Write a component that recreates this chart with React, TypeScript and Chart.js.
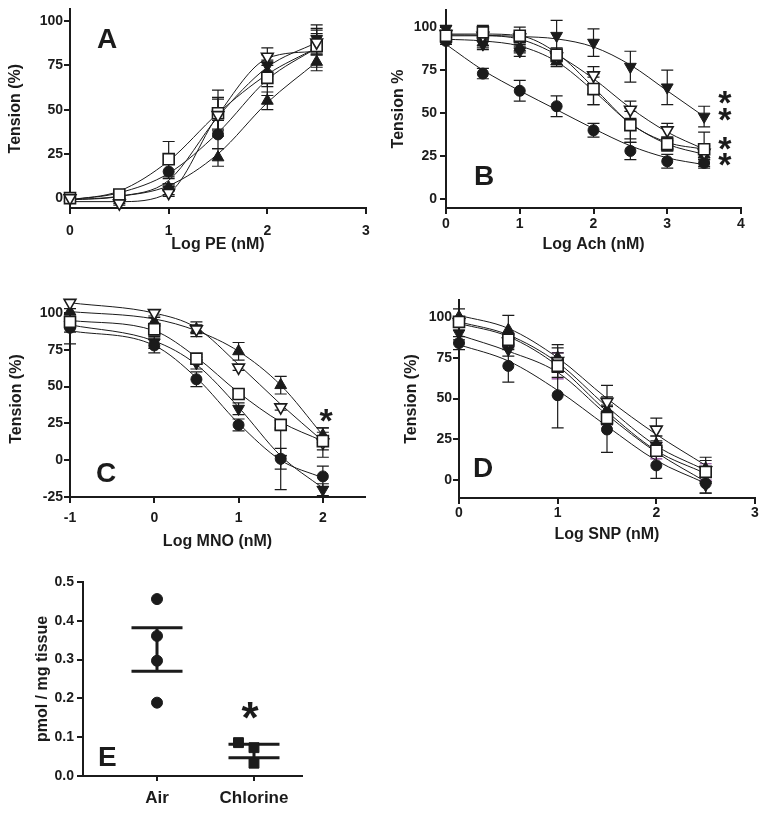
import React, { useEffect, useRef } from 'react';
import { Chart, registerables } from 'chart.js';

Chart.register(...registerables);

const FONT = '"Liberation Sans", Arial, Helvetica, sans-serif';
const INK = '#1b1b1b';
const PURPLE = '#8a3c96';

// ---------- Panel A : Log PE ----------
const A_X = [0, 0.5, 1, 1.5, 2, 2.5];
const A_CIRCLE = [0, 1, 15, 36, 70, 87];
const A_CIRCLE_SEM = [0, 1, 4, 8, 7, 6];
const A_CIRCLE_FIT = [-1, 3, 14, 37, 67, 85];
const A_SQUARE = [0, 2, 22, 48, 68, 86];
const A_SQUARE_SEM = [0, 2, 10, 13, 10, 12];
const A_SQUARE_FIT = [-1, 4, 21, 48, 70, 85];
const A_TRIUP = [0, 0, 6, 23, 55, 77];
const A_TRIUP_SEM = [0, 1, 2, 5, 5, 5];
const A_TRIUP_FIT = [-1, 1, 7, 25, 54, 77];
const A_TRIDOWN = [0, -2, 5, 48, 75, 90];
const A_TRIDOWN_SEM = [0, 1, 3, 9, 6, 6];
const A_TRIDOWN_FIT = [-1, 1, 10, 46, 74, 88];
const A_TRIOPEN = [0, -3, 3, 47, 80, 88];
const A_TRIOPEN_SEM = [0, 1, 2, 9, 5, 7];
const A_TRIOPEN_FIT = [-2, -2, 3, 47, 79, 83];
const A_XTICKS = [0, 1, 2, 3];

// ---------- Panel B : Log Ach ----------
const B_X = [0, 0.5, 1, 1.5, 2, 2.5, 3, 3.5];
const B_CIRCLE = [92, 73, 63, 54, 40, 28, 22, 21];
const B_CIRCLE_SEM = [2, 3, 6, 6, 4, 5, 4, 3];
const B_CIRCLE_FIT = [90, 75, 63, 52, 41, 31, 24, 20];
const B_SQUARE = [95, 97, 95, 84, 64, 43, 32, 29];
const B_SQUARE_SEM = [2, 4, 5, 4, 9, 10, 4, 10];
const B_SQUARE_FIT = [96, 96, 95, 85, 65, 44, 33, 29];
const B_TRIUP = [93, 91, 88, 80, 63, 43, 31, 26];
const B_TRIUP_SEM = [2, 3, 3, 3, 8, 8, 3, 3];
const B_TRIUP_FIT = [93, 92, 89, 80, 63, 44, 32, 26];
const B_TRIDOWN = [99, 90, 86, 95, 91, 77, 65, 48];
const B_TRIDOWN_SEM = [2, 3, 3, 9, 8, 9, 10, 6];
const B_TRIDOWN_FIT = [95.5, 95.3, 94.6, 93.2, 88.5, 78, 63, 48];
const B_TRIOPEN = [96, 95, 94, 83, 72, 52, 40, 27];
const B_TRIOPEN_SEM = [2, 3, 3, 3, 5, 5, 4, 4];
const B_TRIOPEN_FIT = [95, 95, 93, 84, 70, 53, 39, 29];
const B_XTICKS = [0, 1, 2, 3, 4];
const B_STAR_X = [3.78, 3.78, 3.78, 3.78];
const B_STAR_Y = [59, 49, 32, 23];

// ---------- Panel C : Log MNO ----------
const C_X = [-1, 0, 0.5, 1, 1.5, 2];
const C_CIRCLE = [90, 78, 55, 24, 1, -11];
const C_CIRCLE_SEM = [3, 5, 5, 4, 7, 7];
const C_CIRCLE_FIT = [88, 78, 56, 25, 0, -12];
const C_SQUARE = [94, 89, 69, 45, 24, 13];
const C_SQUARE_SEM = [15, 4, 3, 3, 3, 6];
const C_SQUARE_FIT = [95, 88, 70, 46, 26, 13];
const C_TRIUP = [101, 94, 89, 74, 51, 17];
const C_TRIUP_SEM = [2, 3, 5, 6, 6, 5];
const C_TRIUP_FIT = [101, 96, 88, 74, 51, 17];
const C_TRIDOWN = [92, 80, 66, 35, 1, -20];
const C_TRIDOWN_SEM = [2, 4, 4, 4, 21, 4];
const C_TRIDOWN_FIT = [92, 81, 65, 36, 3, -19];
const C_TRIOPEN = [107, 100, 89, 63, 36, 12];
const C_TRIOPEN_SEM = [0, 2, 3, 2, 2, 10];
const C_TRIOPEN_FIT = [107, 100, 90, 65, 38, 13];
const C_XTICKS = [-1, 0, 1, 2];
const C_STAR_X = [2.04];
const C_STAR_Y = [30];

// ---------- Panel D : Log SNP ----------
const D_X = [0, 0.5, 1, 1.5, 2, 2.5];
const D_CIRCLE = [84, 70, 52, 31, 9, -2];
const D_CIRCLE_SEM = [4, 10, 20, 14, 8, 6];
const D_CIRCLE_FIT = [83, 73, 55, 33, 12, -2];
const D_SQUARE = [97, 86, 70, 38, 18, 5];
const D_SQUARE_SEM = [3, 4, 8, 4, 5, 5];
const D_SQUARE_FIT = [96, 88, 70, 42, 18, 4];
const D_TRIUP = [100, 92, 75, 43, 22, 7];
const D_TRIUP_SEM = [5, 9, 6, 8, 5, 5];
const D_TRIUP_FIT = [97, 89, 72, 45, 21, 6];
const D_TRIDOWN = [90, 80, 72, 40, 21, -3];
const D_TRIDOWN_SEM = [4, 4, 6, 6, 6, 5];
const D_TRIDOWN_FIT = [89, 79, 66, 40, 17, -1];
const D_TRIOPEN = [97, 85, 73, 48, 31, 6];
const D_TRIOPEN_SEM = [3, 4, 10, 10, 7, 8];
const D_TRIOPEN_FIT = [101, 93, 75, 50, 28, 9];
const D_XTICKS = [0, 1, 2, 3];

const TENSION_TICKS = [0, 25, 50, 75, 100];
const TENSION_TICKS_C = [-25, 0, 25, 50, 75, 100];

// ---------- Panel E : pmol / mg tissue ----------
const E_CATEGORIES = ['Air', 'Chlorine'];
const E_AIR_X = [0, 0, 0, 0];
const E_AIR_Y = [0.456, 0.361, 0.297, 0.189];
const E_CL_X = [0.84, 1, 1];
const E_CL_Y = [0.086, 0.073, 0.033];
const E_MEAN = [0.326, 0.0645];
const E_SEM = [0.056, 0.0175];
const E_YTICKS = [0, 0.1, 0.2, 0.3, 0.4, 0.5];
const E_XTICKS = [0, 1];
const E_STAR_X = [0.96];
const E_STAR_Y = [0.163];

const MARK: Record<string, any> = {
  circle: { style: 'circle', rot: 0, r: 5.5, fill: INK, bw: 1 },
  square: { style: 'rect', rot: 0, r: 7.8, fill: '#ffffff', bw: 1.6 },
  triUp: { style: 'triangle', rot: 0, r: 6.8, fill: INK, bw: 1 },
  triDown: { style: 'triangle', rot: 180, r: 6.8, fill: INK, bw: 1 },
  triOpen: { style: 'triangle', rot: 180, r: 6.8, fill: '#ffffff', bw: 1.6 },
};

const PANELS: any[] = [
  {
    key: 'A',
    canvas: { left: 0, top: 0, width: 384, height: 265 },
    area: { left: 70, top: 7, right: 366, bottom: 208 },
    x: A_X, xMin: 0, xMax: 3, xTicks: A_XTICKS,
    yMin: -5.6, yMax: 106.7, yTicks: TENSION_TICKS,
    xTitle: 'Log PE (nM)', yTitle: 'Tension (%)',
    xTickPad: 8.6, yTickPad: 1, xTitlePad: 10.4, yTitlePad: 6.1,
    letter: { text: 'A', x: 97, y: 48 },
    stars: { x: [], y: [], size: 34 },
    series: [
      { mark: 'triOpen', y: A_TRIOPEN, sem: A_TRIOPEN_SEM, fit: A_TRIOPEN_FIT },
      { mark: 'square', y: A_SQUARE, sem: A_SQUARE_SEM, fit: A_SQUARE_FIT },
      { mark: 'circle', y: A_CIRCLE, sem: A_CIRCLE_SEM, fit: A_CIRCLE_FIT },
      { mark: 'triDown', y: A_TRIDOWN, sem: A_TRIDOWN_SEM, fit: A_TRIDOWN_FIT },
      { mark: 'triUp', y: A_TRIUP, sem: A_TRIUP_SEM, fit: A_TRIUP_FIT },
    ],
  },
  {
    key: 'B',
    canvas: { left: 384, top: 0, width: 384, height: 265 },
    area: { left: 446, top: 10, right: 741, bottom: 208 },
    x: B_X, xMin: 0, xMax: 4, xTicks: B_XTICKS,
    yMin: -5.2, yMax: 110, yTicks: TENSION_TICKS,
    xTitle: 'Log Ach (nM)', yTitle: 'Tension %',
    xTickPad: 1.6, yTickPad: 3, xTitlePad: 10.4, yTitlePad: 5.4,
    letter: { text: 'B', x: 474, y: 185 },
    stars: { x: B_STAR_X, y: B_STAR_Y, size: 34 },
    series: [
      { mark: 'square', y: B_SQUARE, sem: B_SQUARE_SEM, fit: B_SQUARE_FIT },
      { mark: 'triOpen', y: B_TRIOPEN, sem: B_TRIOPEN_SEM, fit: B_TRIOPEN_FIT },
      { mark: 'circle', y: B_CIRCLE, sem: B_CIRCLE_SEM, fit: B_CIRCLE_FIT },
      { mark: 'triDown', y: B_TRIDOWN, sem: B_TRIDOWN_SEM, fit: B_TRIDOWN_FIT },
      { mark: 'triUp', y: B_TRIUP, sem: B_TRIUP_SEM, fit: B_TRIUP_FIT },
    ],
  },
  {
    key: 'C',
    canvas: { left: 0, top: 280, width: 384, height: 285 },
    area: { left: 70, top: 301, right: 365, bottom: 497 },
    x: C_X, xMin: -1, xMax: 2.5, xTicks: C_XTICKS,
    yMin: -25, yMax: 108.2, yTicks: TENSION_TICKS_C,
    xTitle: 'Log MNO (nM)', yTitle: 'Tension (%)',
    xTickPad: 6.6, yTickPad: 1, xTitlePad: 13.4, yTitlePad: 7.1,
    letter: { text: 'C', x: 96, y: 482 },
    stars: { x: C_STAR_X, y: C_STAR_Y, size: 34 },
    series: [
      { mark: 'square', y: C_SQUARE, sem: C_SQUARE_SEM, fit: C_SQUARE_FIT },
      { mark: 'triOpen', y: C_TRIOPEN, sem: C_TRIOPEN_SEM, fit: C_TRIOPEN_FIT },
      { mark: 'circle', y: C_CIRCLE, sem: C_CIRCLE_SEM, fit: C_CIRCLE_FIT },
      { mark: 'triDown', y: C_TRIDOWN, sem: C_TRIDOWN_SEM, fit: C_TRIDOWN_FIT },
      { mark: 'triUp', y: C_TRIUP, sem: C_TRIUP_SEM, fit: C_TRIUP_FIT },
    ],
  },
  {
    key: 'D',
    canvas: { left: 384, top: 280, width: 384, height: 285 },
    area: { left: 459, top: 300, right: 755, bottom: 498 },
    x: D_X, xMin: 0, xMax: 3, xTicks: D_XTICKS,
    yMin: -11, yMax: 110.4, yTicks: TENSION_TICKS,
    xTitle: 'Log SNP (nM)', yTitle: 'Tension (%)',
    xTickPad: 0.6, yTickPad: 1, xTitlePad: 20.4, yTitlePad: 18.4,
    letter: { text: 'D', x: 473, y: 477 },
    stars: { x: [], y: [], size: 34 },
    series: [
      { mark: 'square', y: D_SQUARE, sem: D_SQUARE_SEM, fit: D_SQUARE_FIT, errColor: PURPLE },
      { mark: 'triOpen', y: D_TRIOPEN, sem: D_TRIOPEN_SEM, fit: D_TRIOPEN_FIT },
      { mark: 'circle', y: D_CIRCLE, sem: D_CIRCLE_SEM, fit: D_CIRCLE_FIT },
      { mark: 'triDown', y: D_TRIDOWN, sem: D_TRIDOWN_SEM, fit: D_TRIDOWN_FIT },
      { mark: 'triUp', y: D_TRIUP, sem: D_TRIUP_SEM, fit: D_TRIUP_FIT },
    ],
  },
];

const E_PANEL: any = {
  key: 'E',
  canvas: { left: 0, top: 565, width: 384, height: 249 },
  area: { left: 83, top: 582, right: 302, bottom: 776 },
  xMin: -0.763, xMax: 1.495, xTicks: E_XTICKS,
  yMin: 0, yMax: 0.5, yTicks: E_YTICKS,
  yTitle: 'pmol / mg tissue',
  xTickPad: 6.8, yTickPad: 3, yTitlePad: 33.4,
  letter: { text: 'E', x: 98, y: 766 },
  stars: { x: E_STAR_X, y: E_STAR_Y, size: 44 },
};

function makeAxis(o: any) {
  const horizontal = o.pos === 'bottom';
  return {
    type: 'linear',
    position: o.pos,
    min: o.min,
    max: o.max,
    afterBuildTicks: (s: any) => {
      s.ticks = o.ticks.map((v: number) => ({ value: v }));
    },
    afterFit: (s: any) => {
      if (horizontal) s.height = o.size;
      else s.width = o.size;
      s.paddingLeft = 0;
      s.paddingRight = 0;
      s.paddingTop = 0;
      s.paddingBottom = 0;
    },
    border: { display: true, color: INK, width: 2 },
    grid: {
      display: true,
      drawOnChartArea: false,
      drawTicks: true,
      tickLength: o.tickLength ?? 6,
      tickWidth: 2,
      tickColor: INK,
      color: INK,
      lineWidth: 2,
    },
    ticks: {
      color: INK,
      padding: o.tickPad,
      font: { family: FONT, size: o.tickSize || 14, weight: 'bold' },
      autoSkip: false,
      maxRotation: 0,
      minRotation: 0,
      callback: o.fmt || ((v: any) => String(v)),
    },
    title: {
      display: !!o.title,
      text: o.title || '',
      color: INK,
      font: { family: FONT, size: 16, weight: 'bold' },
      padding: horizontal ? { top: 0, bottom: o.titlePad } : { top: o.titlePad, bottom: 0 },
    },
  };
}

const errorBarPlugin = {
  id: 'errorBars',
  beforeDatasetsDraw(chart: any) {
    const ctx = chart.ctx;
    const xs = chart.scales.x;
    const ys = chart.scales.y;
    chart.data.datasets.forEach((ds: any) => {
      if (!ds.errorBars) return;
      ctx.save();
      ctx.strokeStyle = ds.errorColor || INK;
      ctx.lineWidth = 1.2;
      ds.data.forEach((pt: any, i: number) => {
        const e = ds.errorBars[i];
        if (!e) return;
        const px = xs.getPixelForValue(pt.x);
        const y1 = ys.getPixelForValue(pt.y + e);
        const y2 = ys.getPixelForValue(pt.y - e);
        ctx.beginPath();
        ctx.moveTo(px, y1);
        ctx.lineTo(px, y2);
        ctx.moveTo(px - 6, y1);
        ctx.lineTo(px + 6, y1);
        ctx.moveTo(px - 6, y2);
        ctx.lineTo(px + 6, y2);
        ctx.stroke();
      });
      ctx.restore();
    });
  },
};

function extrasPlugin(p: any) {
  return {
    id: 'extras' + p.key,
    beforeDatasetsDraw(chart: any) {
      if (p.key !== 'E') return;
      const ctx = chart.ctx;
      const xs = chart.scales.x;
      const ys = chart.scales.y;
      ctx.save();
      ctx.strokeStyle = INK;
      ctx.lineWidth = 3;
      E_MEAN.forEach((m, i) => {
        const cx = E_XTICKS[i];
        const top = ys.getPixelForValue(m + E_SEM[i]);
        const bot = ys.getPixelForValue(m - E_SEM[i]);
        const xl = xs.getPixelForValue(cx - 0.263);
        const xr = xs.getPixelForValue(cx + 0.263);
        const xc = xs.getPixelForValue(cx);
        ctx.beginPath();
        ctx.moveTo(xl, top);
        ctx.lineTo(xr, top);
        ctx.moveTo(xl, bot);
        ctx.lineTo(xr, bot);
        ctx.moveTo(xc, top);
        ctx.lineTo(xc, bot);
        ctx.stroke();
      });
      ctx.restore();
    },
    afterDraw(chart: any) {
      const ctx = chart.ctx;
      const xs = chart.scales.x;
      const ys = chart.scales.y;
      ctx.save();
      ctx.fillStyle = INK;
      ctx.textAlign = 'left';
      ctx.textBaseline = 'alphabetic';
      ctx.font = `bold 28px ${FONT}`;
      ctx.fillText(p.letter.text, p.letter.x - p.canvas.left, p.letter.y - p.canvas.top);
      const s = p.stars.size;
      ctx.font = `bold ${s}px ${FONT}`;
      ctx.textAlign = 'center';
      p.stars.x.forEach((sx: number, i: number) => {
        const px = xs.getPixelForValue(sx);
        const py = ys.getPixelForValue(p.stars.y[i]);
        ctx.fillText('*', px, py + 0.47 * s);
      });
      ctx.restore();
    },
  };
}

function buildConfig(p: any) {
  const c = p.canvas;
  const a = p.area;
  const yW = a.left - c.left;
  const xH = c.top + c.height - a.bottom;
  const datasets: any[] = [];
  if (p.key === 'E') {
    datasets.push({
      data: E_AIR_X.map((x, i) => ({ x, y: E_AIR_Y[i] })),
      showLine: false,
      pointStyle: 'circle',
      pointRadius: 5.5,
      pointBackgroundColor: INK,
      pointBorderColor: INK,
      pointBorderWidth: 1,
      clip: false,
    });
    datasets.push({
      data: E_CL_X.map((x, i) => ({ x, y: E_CL_Y[i] })),
      showLine: false,
      pointStyle: 'rect',
      pointRadius: 7,
      pointBackgroundColor: INK,
      pointBorderColor: INK,
      pointBorderWidth: 1,
      clip: false,
    });
  } else {
    p.series.forEach((s: any) => {
      const m = MARK[s.mark];
      datasets.push({
        data: p.x.map((x: number, i: number) => ({ x, y: s.y[i] })),
        showLine: false,
        pointStyle: m.style,
        rotation: m.rot,
        pointRotation: m.rot,
        pointRadius: m.r,
        pointBackgroundColor: m.fill,
        pointBorderColor: INK,
        pointBorderWidth: m.bw,
        errorBars: s.sem,
        errorColor: s.errColor || INK,
        clip: false,
        order: 0,
      });
    });
    p.series.forEach((s: any) => {
      datasets.push({
        data: p.x.map((x: number, i: number) => ({ x, y: s.fit[i] })),
        showLine: true,
        pointRadius: 0,
        borderColor: INK,
        borderWidth: 1,
        cubicInterpolationMode: 'monotone',
        fill: false,
        clip: false,
        order: 1,
      });
    });
  }
  return {
    type: 'line',
    data: { datasets },
    options: {
      responsive: false,
      animation: false,
      events: [],
      layout: {
        padding: { left: 0, top: a.top - c.top, right: c.left + c.width - a.right, bottom: 0 },
      },
      plugins: { legend: { display: false }, tooltip: { enabled: false } },
      scales: {
        x: makeAxis({
          pos: 'bottom', min: p.xMin, max: p.xMax, ticks: p.xTicks, size: xH,
          tickPad: p.xTickPad, title: p.xTitle, titlePad: p.xTitlePad,
          tickSize: p.key === 'E' ? 17 : 14,
          tickLength: p.key === 'E' ? 5 : 6,
          fmt: p.key === 'E' ? (v: any) => E_CATEGORIES[v] ?? '' : undefined,
        }),
        y: makeAxis({
          pos: 'left', min: p.yMin, max: p.yMax, ticks: p.yTicks, size: yW,
          tickPad: p.yTickPad, title: p.yTitle, titlePad: p.yTitlePad,
          fmt: p.key === 'E' ? (v: any) => Number(v).toFixed(1) : undefined,
        }),
      },
    },
    plugins: [errorBarPlugin, extrasPlugin(p)],
  };
}

function Panel({ spec }: { spec: any }) {
  const ref = useRef<HTMLCanvasElement>(null);
  useEffect(() => {
    if (!ref.current) return;
    const chart = new Chart(ref.current, buildConfig(spec) as any);
    return () => chart.destroy();
  }, [spec]);
  const c = spec.canvas;
  return (
    <canvas
      ref={ref}
      width={c.width}
      height={c.height}
      style={{ position: 'absolute', left: c.left, top: c.top, width: c.width, height: c.height }}
    />
  );
}

export default function App() {
  return (
    <div style={{ position: 'absolute', left: 0, top: 0, width: 768, height: 814, background: '#fff', overflow: 'hidden' }}>
      {PANELS.map((p) => (
        <Panel key={p.key} spec={p} />
      ))}
      <Panel spec={E_PANEL} />
    </div>
  );
}
